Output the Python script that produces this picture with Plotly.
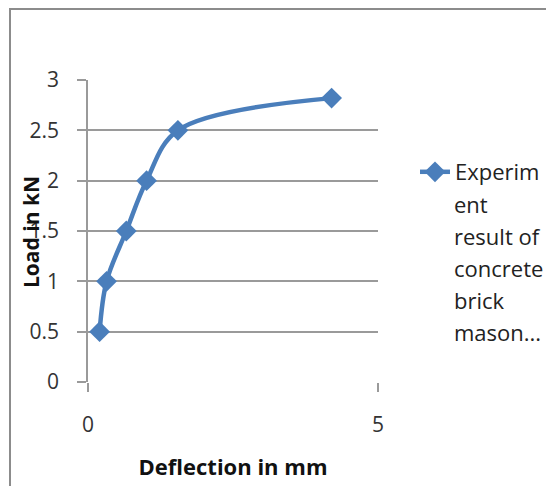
import plotly.graph_objects as go

deflection_mm = [0.2, 0.32, 0.66, 1.01, 1.55, 4.2]
load_kN = [0.5, 1.0, 1.5, 2.0, 2.5, 2.82]
series_name_lines = ["Experim", "ent", "result of", "concrete", "brick", "mason..."]
x_ticks = [0, 5]
y_ticks = [0, 0.5, 1, 1.5, 2, 2.5, 3]
y_tick_text = ["0", "0.5", "1", "1.5", "2", "2.5", "3"]

BLUE = "#4A7EBB"
GRID = "#9a9a9a"
FONT = "Open Sans"

# page body adds an 8px offset; figure is sized to fit the window
OFF = 8
W, H = 554 - OFF, 486 - OFF
PL, PR, PT, PB = 88, 378, 80, 382          # plot area in window pixels
L, R, T, B = PL - OFF, W - (PR - OFF), PT - OFF, H - (PB - OFF)
pw = W - L - R
ph = H - T - B


def px(xw):
    return (xw - PL) / pw


def py(yw):
    return (PB - yw) / ph


fig = go.Figure()
fig.add_trace(go.Scatter(
    x=deflection_mm, y=load_kN, mode="lines+markers",
    name=series_name_lines[0],
    line=dict(color=BLUE, width=4.5, shape="spline", smoothing=1),
    marker=dict(symbol="diamond", size=16, color=BLUE),
))

annotations = []
for i, txt in enumerate(series_name_lines[1:], start=1):
    annotations.append(dict(
        text=txt, xref="paper", yref="paper",
        x=px(452), y=py(172 + 32 * i),
        xanchor="left", yanchor="middle", showarrow=False,
        font=dict(family=FONT, size=22, color="#222222"),
    ))
annotations.append(dict(
    text="<b>Load in kN</b>", xref="paper", yref="paper",
    x=px(31), y=py(232), textangle=-90,
    xanchor="center", yanchor="middle", showarrow=False,
    font=dict(family=FONT, size=21, color="#111111"),
))

fig.update_layout(
    template="none",
    width=W, height=H,
    margin=dict(l=L, r=R, t=T, b=B, autoexpand=False),
    paper_bgcolor="white", plot_bgcolor="white",
    showlegend=True,
    legend=dict(
        x=px(415), y=py(172), xref="paper", yref="paper",
        xanchor="left", yanchor="middle", valign="middle",
        font=dict(family=FONT, size=22, color="#222222"),
        bgcolor="rgba(0,0,0,0)", itemwidth=30, borderwidth=0,
    ),
    annotations=annotations,
    shapes=[dict(type="rect", xref="paper", yref="paper",
                 x0=px(10), x1=px(570),
                 y0=py(520), y1=py(9),
                 line=dict(color="#8c8c8c", width=2), layer="below")],
    xaxis=dict(
        range=[0, 5], tickvals=x_ticks, ticktext=[str(v) for v in x_ticks],
        showgrid=False, zeroline=False, showline=False, automargin=False,
        ticks="outside", ticklen=9, tickcolor=GRID, tickwidth=1.5,
        ticklabelstandoff=15,
        tickfont=dict(family=FONT, size=21, color="#333333"),
        title=dict(text="<b>Deflection in mm</b>", standoff=22,
                   font=dict(family=FONT, size=22, color="#111111")),
    ),
    yaxis=dict(
        range=[0, 3], tickvals=y_ticks, ticktext=y_tick_text,
        showgrid=True, gridcolor=GRID, gridwidth=1.5, automargin=False,
        zeroline=False, showline=True, linecolor=GRID, linewidth=1.5,
        ticks="outside", ticklen=9, tickcolor=GRID, tickwidth=1.5,
        ticklabelstandoff=14,
        tickfont=dict(family=FONT, size=21, color="#333333"),
    ),
)

fig.write_html("out.html")
